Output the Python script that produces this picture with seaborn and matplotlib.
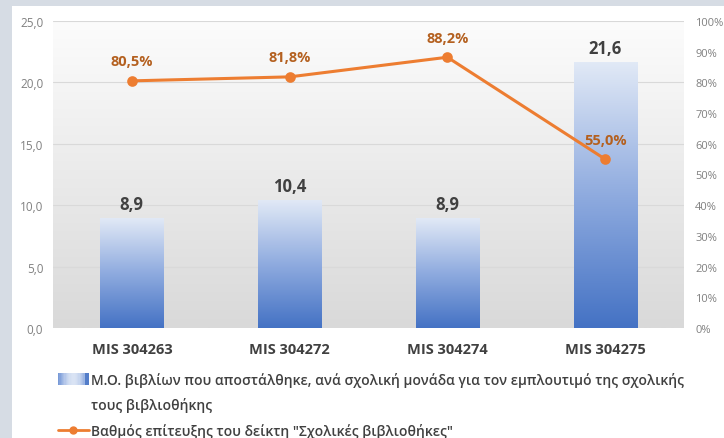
import numpy as np
import pandas as pd
import seaborn as sns
import matplotlib.pyplot as plt
from matplotlib.colors import LinearSegmentedColormap
from matplotlib.patches import Rectangle
from matplotlib.lines import Line2D
from matplotlib.legend_handler import HandlerBase

# data
categories = ["MIS 304263", "MIS 304272", "MIS 304274", "MIS 304275"]
books_avg = [8.9, 10.4, 8.9, 21.6]
achievement = [80.5, 81.8, 88.2, 55.0]
left_ticks = [0, 5, 10, 15, 20, 25]
right_ticks = [0, 10, 20, 30, 40, 50, 60, 70, 80, 90, 100]
bar_label_1 = "Μ.Ο. βιβλίων που αποστάλθηκε, ανά σχολική μονάδα για τον εμπλουτιμό της σχολικής"
bar_label_2 = "τους βιβλιοθήκης"
line_label = 'Βαθμός επίτευξης του δείκτη "Σχολικές βιβλιοθήκες"'

sns.set_style("white")
plt.rcParams['font.family'] = ['Open Sans', 'DejaVu Sans']

df = pd.DataFrame({'mis': categories, 'books': books_avg, 'rate': achievement})

BLUE = '#4472c4'
ORANGE = '#ed7d31'
DARK = '#404040'
GREY = '#808080'

bar_cmap = LinearSegmentedColormap.from_list('bar', [BLUE, '#8fabdf', '#e1e9f6'])
bg_cmap = LinearSegmentedColormap.from_list('bg', ['#d9d9d9', '#fcfcfc'])

fig = plt.figure(figsize=(7.24, 4.39), dpi=100, facecolor='#d6dce4')
fig.patches.append(Rectangle((12 / 724, 0), 1, (439 - 7) / 439, transform=fig.transFigure,
                             facecolor='white', edgecolor='none', zorder=-1))
ax = fig.add_axes([53 / 724, 110 / 439, 631 / 724, 307 / 439])

# plot area gradient
grad = np.linspace(0, 1, 256).reshape(-1, 1)
ax.imshow(grad, extent=[0, 1, 0, 1], transform=ax.transAxes, cmap=bg_cmap,
          aspect='auto', origin='lower', zorder=0)

sns.barplot(data=df, x='mis', y='books', ax=ax, width=0.4, color=BLUE, zorder=2)
for p in list(ax.patches):
    x0, w, h = p.get_x(), p.get_width(), p.get_height()
    p.set_visible(False)
    ax.imshow(grad, extent=[x0, x0 + w, 0, h], cmap=bar_cmap, aspect='auto',
              origin='lower', zorder=2)

ax.bar_label(ax.containers[0], labels=[f"{v:.1f}".replace('.', ',') for v in books_avg],
             padding=4, fontsize=12, fontweight='bold', color=DARK)

ax.set_xlim(-0.5, 3.5)
ax.set_ylim(0, 25)
ax.set_yticks(left_ticks)
ax.set_yticklabels([f"{t:.1f}".replace('.', ',') for t in left_ticks])
ax.yaxis.grid(True, color='#d9d9d9', lw=0.8)
ax.set_axisbelow(True)
ax.tick_params(axis='y', length=0, pad=7, labelsize=8.5, labelcolor=GREY)
ax.tick_params(axis='x', length=0, pad=10, labelsize=10.5, labelcolor=DARK)
for lab in ax.get_xticklabels():
    lab.set_fontweight('bold')
ax.set_xlabel('')
ax.set_ylabel('')
sns.despine(ax=ax, left=True, bottom=True)

ax2 = ax.twinx()
sns.pointplot(data=df, x='mis', y='rate', ax=ax2, color=ORANGE, markers='o',
              errorbar=None, markersize=6, linewidth=2.2)
ax2.set_xlim(-0.5, 3.5)
ax2.set_ylim(0, 100)
ax2.set_yticks(right_ticks)
ax2.set_yticklabels([f"{t}%" for t in right_ticks])
ax2.tick_params(axis='y', length=0, pad=8, labelsize=8, labelcolor=GREY)
ax2.set_xlabel('')
ax2.set_ylabel('')
for s in ax2.spines.values():
    s.set_visible(False)
for i, v in enumerate(achievement):
    ax2.annotate(f"{v:.1f}%".replace('.', ','), (i, v), xytext=(0, 14),
                 textcoords='offset points', ha='center', va='center',
                 fontsize=10.5, fontweight='bold', color='#b4601f')


class GradientKey:
    pass


class GradientHandler(HandlerBase):
    def create_artists(self, legend, orig_handle, xdescent, ydescent, width,
                       height, fontsize, trans):
        n = 24
        arts = []
        for i in range(n):
            t = i / (n - 1)
            c = bar_cmap(0.35 + 0.6 * np.sin(np.pi * t) if i < n - 3 else 0.1)
            arts.append(Rectangle((-xdescent + i * width / n, -ydescent - 1),
                                  width / n + 0.3, height + 2, facecolor=c,
                                  edgecolor='none', transform=trans))
        return arts


blank = Line2D([], [], linestyle='none')
line_handle = Line2D([], [], color=ORANGE, marker='o', markersize=5, lw=2)
fig.legend([GradientKey(), blank, line_handle], [bar_label_1, bar_label_2, line_label],
           handler_map={GradientKey: GradientHandler()},
           loc='upper left', bbox_to_anchor=(58 / 724, 1 - 373 / 439),
           frameon=False, borderpad=0, borderaxespad=0, handlelength=2.2,
           handletextpad=0.15, labelspacing=0.75, labelcolor=DARK,
           prop={'size': 10, 'weight': 'semibold'})

plt.savefig('out.png', dpi=100, facecolor=fig.get_facecolor())
